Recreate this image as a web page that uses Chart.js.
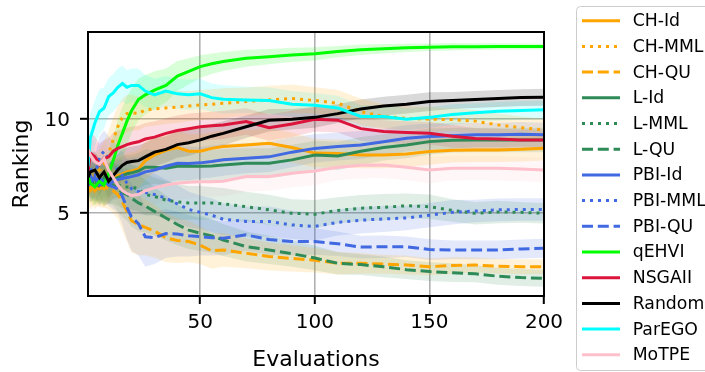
<!DOCTYPE html>
<html><head><meta charset="utf-8">
<script src="https://cdn.jsdelivr.net/npm/chart.js@4/dist/chart.umd.min.js"></script>
<style>html,body{margin:0;padding:0;background:#fff}canvas{display:block}</style>
</head><body>
<canvas id="c" width="705" height="372"></canvas>
<script>
// ---- data ----
const evaluations = [1,2,4,6,8,10,12,14,16,18,20,23,26,30,35,40,45,50,55,60,70,80,90,100,110,120,130,140,150,160,170,180,190,200];
const xTickValues = [50,100,150,200];
const yTickValues = [5,10];

const chId   = [6.3,6.6,6.2,6.5,6.3,6.6,6.9,7.0,7.1,7.2,7.25,7.35,7.8,8.1,8.35,8.5,8.3,8.3,8.45,8.55,8.63,8.72,8.5,8.2,8.18,8.1,8.1,8.15,8.28,8.35,8.37,8.37,8.4,8.46];
const chMml  = [7.0,7.2,7.0,7.3,7.6,8.2,8.9,9.6,10.1,10.3,10.35,10.3,10.5,10.55,10.6,10.65,10.7,10.76,10.8,10.85,10.94,11.03,11.1,11.0,10.85,10.4,10.15,10.05,10.0,9.98,9.9,9.7,9.55,9.43];
const chQu   = [6.4,6.2,6.5,6.3,6.4,6.3,6.2,6.0,5.6,5.1,4.6,4.4,4.25,4.05,3.7,3.55,3.5,3.3,3.0,3.05,2.87,2.7,2.6,2.5,2.34,2.34,2.3,2.25,2.16,2.22,2.25,2.18,2.16,2.16];
const lId    = [7.0,6.7,6.8,6.5,6.9,6.6,6.8,6.9,7.0,7.1,7.15,7.25,7.45,7.45,7.4,7.5,7.5,7.5,7.52,7.57,7.66,7.66,7.84,8.1,8.05,8.3,8.5,8.63,8.81,8.88,8.9,8.9,8.9,8.9];
const lMml   = [6.8,6.5,6.7,6.4,6.6,6.5,6.6,6.5,6.45,6.4,6.4,6.3,6.0,5.9,5.7,5.6,5.55,5.55,5.55,5.5,5.35,5.18,5.0,4.95,5.15,5.27,5.32,5.4,5.35,5.15,5.0,5.07,5.05,5.0];
const lQu    = [6.6,6.9,6.5,6.7,6.4,6.6,6.5,6.3,6.1,6.0,5.8,5.55,5.38,5.1,4.75,4.4,4.1,3.94,3.8,3.58,3.23,3.05,2.85,2.62,2.34,2.27,2.15,2.0,1.9,1.84,1.78,1.65,1.58,1.54];
const pbiId  = [7.3,6.6,6.9,6.5,6.7,6.5,6.7,6.8,6.85,6.9,6.95,7.05,7.2,7.3,7.5,7.66,7.65,7.68,7.75,7.84,7.93,8.0,8.25,8.45,8.55,8.63,8.8,8.99,9.08,9.12,9.17,9.17,9.2,9.17];
const pbiMml = [7.0,7.4,7.0,8.0,8.3,7.9,7.6,7.3,7.0,6.6,6.3,6.15,6.1,6.0,5.8,5.5,5.2,5.05,4.9,4.68,4.56,4.56,4.38,4.3,4.52,4.63,4.7,4.75,4.9,5.05,5.12,5.18,5.2,5.2];
const pbiQu  = [6.8,7.0,6.6,6.9,6.6,6.5,6.4,6.3,5.9,5.3,4.8,4.45,3.75,3.7,3.92,3.9,3.8,3.76,3.7,3.67,3.85,3.6,3.5,3.5,3.38,3.2,3.22,3.22,3.07,3.05,3.05,3.05,3.1,3.14];
const qEhvi  = [7.0,6.6,6.4,6.7,6.5,7.1,7.8,8.6,9.25,9.9,10.45,11.05,11.3,11.55,11.8,12.3,12.55,12.8,12.95,13.07,13.24,13.33,13.42,13.48,13.6,13.7,13.75,13.8,13.83,13.85,13.86,13.87,13.87,13.87];
const nsga2  = [7.2,8.2,8.0,7.6,7.9,8.0,8.3,8.45,8.55,8.65,8.72,8.8,8.95,9.05,9.25,9.4,9.5,9.6,9.65,9.7,9.88,9.55,9.75,10.0,9.95,9.5,9.35,9.3,9.26,9.1,8.97,8.95,8.9,8.9];
const randomS= [6.9,7.2,7.3,6.9,7.2,6.7,7.0,7.3,7.55,7.7,7.75,7.8,8.0,8.25,8.4,8.65,8.75,8.9,9.1,9.25,9.6,9.95,10.0,10.1,10.3,10.55,10.7,10.8,10.94,11.0,11.05,11.1,11.15,11.17];
const parEgo = [7.5,9.0,9.8,10.4,10.6,11.2,11.4,11.7,11.9,11.7,11.8,11.8,11.5,11.3,11.5,11.35,11.3,11.35,11.15,11.06,11.03,11.0,10.8,10.75,10.6,10.15,10.15,10.0,10.1,10.25,10.35,10.42,10.47,10.5];
const moTpe  = [8.4,8.1,7.75,7.6,7.9,7.3,6.9,6.5,6.2,6.05,5.95,6.0,6.2,6.35,6.5,6.6,6.65,6.68,6.68,6.7,6.95,6.95,7.13,7.25,7.45,7.55,7.57,7.45,7.3,7.39,7.4,7.39,7.35,7.3];

// half-widths of the shaded bands
const chIdSd   = [0.9,1.0,1.0,1.0,1.0,1.0,1.0,1.0,1.0,1.0,1.0,1.0,1.0,0.95,0.95,0.9,0.9,0.9,0.85,0.85,0.8,0.8,0.8,0.75,0.75,0.7,0.7,0.7,0.7,0.65,0.65,0.65,0.65,0.65];
const chMmlSd  = [1.0,1.0,1.1,1.1,1.2,1.2,1.2,1.1,1.0,1.0,0.95,0.9,0.9,0.9,0.85,0.85,0.8,0.8,0.8,0.8,0.75,0.75,0.75,0.7,0.7,0.7,0.65,0.65,0.65,0.6,0.6,0.6,0.6,0.6];
const chQuSd   = [0.9,1.0,1.0,1.0,1.1,1.1,1.2,1.3,1.5,1.6,1.7,1.6,1.5,1.4,1.3,1.2,1.1,1.0,0.95,0.9,0.8,0.75,0.7,0.65,0.6,0.55,0.5,0.5,0.45,0.45,0.4,0.4,0.4,0.4];
const lIdSd    = [0.9,0.9,1.0,1.0,1.0,1.0,1.0,1.0,1.0,1.0,0.95,0.95,0.95,0.9,0.9,0.9,0.85,0.85,0.85,0.85,0.8,0.8,0.8,0.75,0.75,0.75,0.7,0.7,0.7,0.65,0.65,0.65,0.65,0.65];
const lMmlSd   = [0.9,0.9,1.0,1.0,1.0,1.0,1.1,1.1,1.2,1.2,1.2,1.2,1.1,1.0,1.0,0.95,0.9,0.9,0.85,0.85,0.8,0.8,0.75,0.75,0.7,0.7,0.7,0.65,0.65,0.6,0.6,0.6,0.55,0.55];
const lQuSd    = [0.9,1.0,1.0,1.0,1.0,1.1,1.1,1.2,1.3,1.4,1.5,1.5,1.4,1.3,1.2,1.1,1.0,0.95,0.9,0.85,0.8,0.75,0.7,0.65,0.6,0.55,0.55,0.5,0.5,0.5,0.45,0.45,0.45,0.45];
const pbiIdSd  = [0.9,1.0,1.0,1.0,1.0,1.0,1.0,1.0,1.0,1.0,1.0,0.95,0.95,0.95,0.9,0.9,0.9,0.85,0.85,0.85,0.8,0.8,0.8,0.75,0.75,0.75,0.7,0.7,0.7,0.7,0.65,0.65,0.65,0.65];
const pbiMmlSd = [0.9,1.0,1.0,1.1,1.1,1.2,1.2,1.3,1.3,1.3,1.3,1.2,1.2,1.1,1.0,1.0,0.95,0.9,0.9,0.85,0.8,0.8,0.75,0.75,0.7,0.7,0.7,0.65,0.65,0.65,0.6,0.6,0.6,0.6];
const pbiQuSd  = [0.9,1.0,1.0,1.0,1.1,1.1,1.2,1.3,1.5,1.7,1.8,1.7,1.6,1.4,1.3,1.2,1.1,1.0,0.95,0.9,0.85,0.8,0.75,0.7,0.65,0.6,0.6,0.55,0.55,0.5,0.5,0.5,0.5,0.5];
const qEhviSd  = [0.8,0.9,1.0,1.0,1.1,1.2,1.3,1.4,1.4,1.3,1.2,1.1,1.05,1.0,0.9,0.8,0.7,0.6,0.55,0.5,0.45,0.4,0.38,0.35,0.3,0.28,0.25,0.22,0.2,0.2,0.18,0.17,0.16,0.15];
const nsga2Sd  = [1.0,1.1,1.1,1.1,1.0,1.0,1.0,0.95,0.9,0.9,0.9,0.85,0.85,0.85,0.8,0.8,0.8,0.75,0.75,0.75,0.7,0.7,0.7,0.65,0.65,0.65,0.6,0.6,0.6,0.6,0.55,0.55,0.55,0.55];
const randomSd = [1.0,1.0,1.0,0.95,0.9,0.9,0.9,0.85,0.85,0.8,0.8,0.8,0.75,0.75,0.7,0.7,0.7,0.65,0.65,0.65,0.6,0.6,0.55,0.55,0.5,0.5,0.5,0.5,0.5,0.45,0.45,0.45,0.45,0.45];
const parEgoSd = [1.2,1.3,1.2,1.2,1.1,1.0,1.0,1.0,0.95,0.9,0.9,0.9,0.85,0.85,0.8,0.8,0.8,0.8,0.75,0.75,0.7,0.7,0.7,0.65,0.65,0.6,0.6,0.6,0.55,0.55,0.5,0.5,0.5,0.5];
const moTpeSd  = [1.0,1.0,1.0,1.0,1.0,1.0,1.0,1.0,1.0,0.95,0.95,0.9,0.9,0.9,0.85,0.85,0.85,0.8,0.8,0.8,0.8,0.75,0.75,0.75,0.7,0.7,0.7,0.7,0.7,0.65,0.65,0.65,0.65,0.65];

// ---- styles ----
const SOLID = [], DOT = [3,5], DASH = [11,4.8];
const series = [
  {label:'CH-Id',   y:chId,   sd:chIdSd,   rgb:[255,165,0],   dash:SOLID},
  {label:'CH-MML',  y:chMml,  sd:chMmlSd,  rgb:[255,165,0],   dash:DOT},
  {label:'CH-QU',   y:chQu,   sd:chQuSd,   rgb:[255,165,0],   dash:DASH},
  {label:'L-Id',    y:lId,    sd:lIdSd,    rgb:[46,139,87],   dash:SOLID},
  {label:'L-MML',   y:lMml,   sd:lMmlSd,   rgb:[46,139,87],   dash:DOT},
  {label:'L-QU',    y:lQu,    sd:lQuSd,    rgb:[46,139,87],   dash:DASH},
  {label:'PBI-Id',  y:pbiId,  sd:pbiIdSd,  rgb:[65,105,225],  dash:SOLID},
  {label:'PBI-MML', y:pbiMml, sd:pbiMmlSd, rgb:[65,105,225],  dash:DOT},
  {label:'PBI-QU',  y:pbiQu,  sd:pbiQuSd,  rgb:[65,105,225],  dash:DASH},
  {label:'qEHVI',   y:qEhvi,  sd:qEhviSd,  rgb:[0,255,0],     dash:SOLID},
  {label:'NSGAII',  y:nsga2,  sd:nsga2Sd,  rgb:[220,20,60],   dash:SOLID},
  {label:'Random',  y:randomS,sd:randomSd, rgb:[0,0,0],       dash:SOLID},
  {label:'ParEGO',  y:parEgo, sd:parEgoSd, rgb:[0,255,255],   dash:SOLID},
  {label:'MoTPE',   y:moTpe,  sd:moTpeSd,  rgb:[255,192,203], dash:SOLID}
];
const rgba = (c,a)=>`rgba(${c[0]},${c[1]},${c[2]},${a})`;
const FONT = '"DejaVu Sans", sans-serif';

const datasets = [];
series.forEach(s=>{
  datasets.push({label:s.label+' lo', data:evaluations.map((x,i)=>({x, y:s.y[i]-s.sd[i]})),
    borderWidth:0, borderColor:'transparent', pointRadius:0, fill:false, order:100});
  datasets.push({label:s.label+' hi', data:evaluations.map((x,i)=>({x, y:s.y[i]+s.sd[i]})),
    borderWidth:0, borderColor:'transparent', pointRadius:0, fill:'-1',
    backgroundColor:rgba(s.rgb,0.15), order:100});
});
series.forEach((s,i)=>{
  datasets.push({label:s.label, data:evaluations.map((x,k)=>({x, y:s.y[k]})),
    borderColor:rgba(s.rgb,1), borderWidth:3, borderDash:s.dash, borderCapStyle:'butt',
    pointRadius:0, fill:false, tension:0, order:series.length-i});
});

const framePlugin = {
  id:'frame',
  afterDatasetsDraw(chart){
    const {ctx, chartArea:a} = chart;
    ctx.save(); ctx.strokeStyle='#000'; ctx.lineWidth=2; ctx.setLineDash([]);
    ctx.strokeRect(a.left, a.top, a.right-a.left, a.bottom-a.top);
    ctx.restore();
  }
};
const legendPlugin = {
  id:'mplLegend',
  afterDraw(chart){
    const ctx = chart.ctx;
    ctx.save();
    const bx=576.5, by=6.5, bw=150, bh=364, r=4;
    ctx.beginPath();
    ctx.moveTo(bx+r,by); ctx.lineTo(bx+bw-r,by); ctx.quadraticCurveTo(bx+bw,by,bx+bw,by+r);
    ctx.lineTo(bx+bw,by+bh-r); ctx.quadraticCurveTo(bx+bw,by+bh,bx+bw-r,by+bh);
    ctx.lineTo(bx+r,by+bh); ctx.quadraticCurveTo(bx,by+bh,bx,by+bh-r);
    ctx.lineTo(bx,by+r); ctx.quadraticCurveTo(bx,by,bx+r,by); ctx.closePath();
    ctx.fillStyle='rgba(255,255,255,0.8)'; ctx.fill();
    ctx.strokeStyle='#cccccc'; ctx.lineWidth=1; ctx.stroke();
    ctx.font='17.3px '+FONT; ctx.textBaseline='middle'; ctx.textAlign='left';
    series.forEach((s,i)=>{
      const y = 20.7 + i*25.7;
      ctx.beginPath(); ctx.setLineDash(s.dash); ctx.lineCap='butt';
      ctx.lineWidth=3; ctx.strokeStyle=rgba(s.rgb,1);
      ctx.moveTo(582,y); ctx.lineTo(620,y); ctx.stroke();
      ctx.setLineDash([]); ctx.fillStyle='#000';
      ctx.fillText(s.label, 632.7, y+1);
    });
    ctx.restore();
  }
};

new Chart(document.getElementById('c'), {
  type:'line',
  data:{datasets},
  options:{
    responsive:false, animation:false, devicePixelRatio:1,
    layout:{padding:{left:0,right:161,top:32,bottom:0}},
    plugins:{legend:{display:false}, tooltip:{enabled:false}, filler:{propagate:false}},
    scales:{
      x:{type:'linear', min:1, max:200,
        afterBuildTicks:(sc)=>{sc.ticks = xTickValues.map(v=>({value:v}));},
        afterFit:(sc)=>{sc.height = 76;},
        grid:{color:'#b0b0b0', lineWidth:1.6, drawTicks:true, tickLength:8, tickColor:'#000', tickWidth:2},
        border:{display:false},
        ticks:{font:{family:FONT,size:20}, color:'#000', padding:7, maxRotation:0, autoSkip:false},
        title:{display:true, text:'Evaluations', color:'#000', font:{family:FONT,size:22,lineHeight:1.1}, padding:{top:0,bottom:0}}
      },
      y:{type:'linear', min:0.6, max:14.64,
        afterBuildTicks:(sc)=>{sc.ticks = yTickValues.map(v=>({value:v}));},
        afterFit:(sc)=>{sc.width = 88;},
        grid:{color:'#b0b0b0', lineWidth:1.6, drawTicks:true, tickLength:8, tickColor:'#000', tickWidth:2},
        border:{display:false},
        ticks:{font:{family:FONT,size:20}, color:'#000', padding:10, labelOffset:2, autoSkip:false},
        title:{display:true, text:'Ranking', color:'#000', font:{family:FONT,size:22,lineHeight:1.2}, padding:{top:9,bottom:0}}
      }
    }
  },
  plugins:[framePlugin, legendPlugin]
});
</script>
</body></html>
